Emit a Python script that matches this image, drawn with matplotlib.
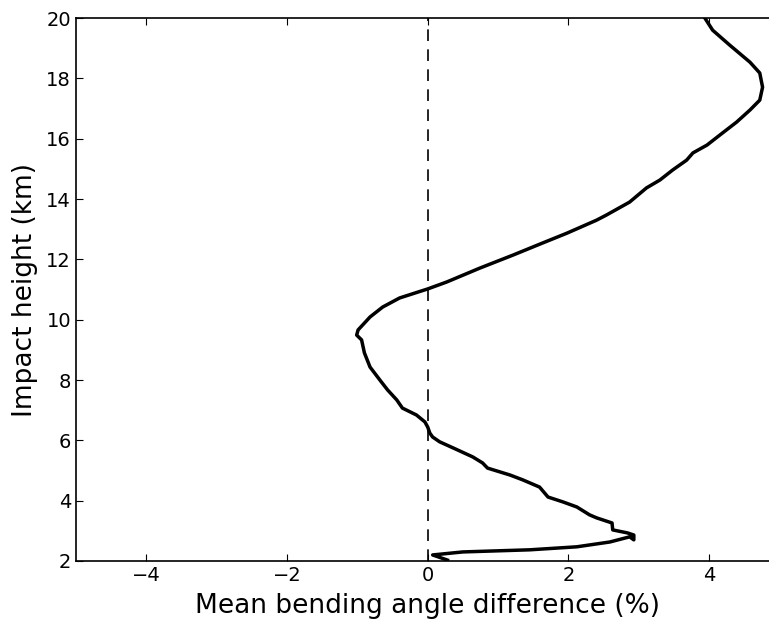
import numpy as np
import matplotlib
matplotlib.use("Agg")
import matplotlib.pyplot as plt

# mean bending angle difference (%) vs impact height (km)
diff = [3.94, 4.05, 4.29, 4.58, 4.72, 4.76, 4.72, 4.58, 4.39, 4.19, 3.97, 3.77,
        3.68, 3.48, 3.30, 3.11, 2.87, 2.54, 2.40, 1.98, 1.63, 1.21, 0.74, 0.27,
        0.0, -0.40, -0.64, -0.82, -0.99, -1.01, -0.94, -0.90,
        -0.82, -0.68, -0.57, -0.44, -0.36, -0.16, -0.04, 0.0, 0.03, 0.07, 0.17,
        0.36, 0.64, 0.78, 0.85, 1.17, 1.35, 1.59, 1.71, 1.92, 2.12, 2.30, 2.40,
        2.62, 2.63, 2.84, 2.93, 2.93, 2.87, 2.59, 2.12, 1.45, 0.50, 0.07, 0.28]
height = [20.0, 19.60, 19.11, 18.54, 18.18, 17.71, 17.28, 16.95, 16.55, 16.19,
          15.79, 15.53, 15.29, 14.96, 14.63, 14.37, 13.90, 13.47, 13.30, 12.87,
          12.54, 12.14, 11.71, 11.25,
          11.02, 10.72, 10.42, 10.09, 9.66, 9.49, 9.33, 8.90, 8.43, 8.00, 7.67,
          7.34, 7.07, 6.84, 6.61, 6.44, 6.24, 6.11, 5.95, 5.75, 5.45, 5.25, 5.08,
          4.85, 4.69, 4.45, 4.12, 3.96, 3.79, 3.53, 3.43, 3.26, 3.03, 2.93, 2.86,
          2.70, 2.80, 2.63, 2.47, 2.37, 2.30, 2.20, 2.03]

fig = plt.figure(figsize=(7.69, 6.24), dpi=100)
ax = fig.add_axes([0.0988, 0.101, 0.9148, 0.870])
ax.plot(diff, height, 'k-', lw=2.5)
ax.axvline(0, color='k', ls='--', lw=1.2, dashes=(7, 5))
ax.set_xlim(-5, 5)
ax.set_ylim(2, 20)
ax.set_xticks([-4, -2, 0, 2, 4])
ax.set_yticks(np.arange(2, 21, 2))
ax.tick_params(direction='in', top=True, right=True, length=5, labelsize=14)
for s in ax.spines.values():
    s.set_linewidth(1.2)
ax.set_xlabel('Mean bending angle difference (%)', fontsize=19, labelpad=6)
ax.set_ylabel('Impact height (km)', fontsize=19, labelpad=6)
fig.savefig('out.png', dpi=100)
